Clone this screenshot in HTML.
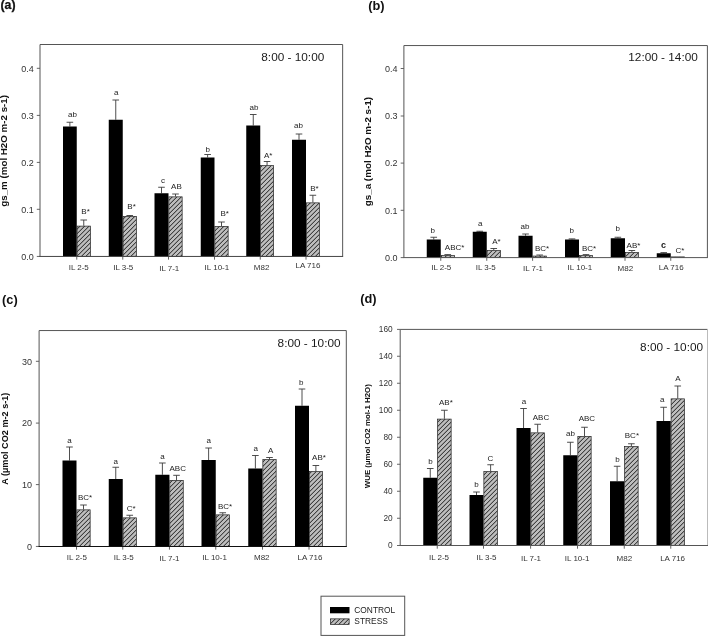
<!DOCTYPE html>
<html><head><meta charset="utf-8"><title>Figure</title>
<style>html,body{margin:0;padding:0;background:#fff}svg{display:block}text{font-family:"Liberation Sans", Arial, sans-serif}</style>
</head><body>
<svg width="708" height="636" viewBox="0 0 708 636">
<defs>
<pattern id="h" patternUnits="userSpaceOnUse" width="9" height="9">
<rect width="9" height="9" fill="#bebebe"/>
<path d="M-1 1.25L1.25 -1M-1 5.75L5.75 -1M-1 10.25L10.25 -1M3.5 10.25L10.25 3.5M8 10.25L10.25 8" stroke="#101010" stroke-width="0.95"/>
</pattern>
</defs>
<rect width="708" height="636" fill="#fff"/>
<path d="M40.0 256.45V44.5H342.65" fill="none" stroke="#555" stroke-width="1"/>
<path d="M342.65 44.5V256.45" fill="none" stroke="#555" stroke-width="1"/>
<path d="M36.8 256.45H40.0" stroke="#555" stroke-width="0.9"/>
<text x="33.80" y="259.67" font-size="9" text-anchor="end" fill="#333">0.0</text>
<path d="M36.8 209.3H40.0" stroke="#555" stroke-width="0.9"/>
<text x="33.80" y="212.52" font-size="9" text-anchor="end" fill="#333">0.1</text>
<path d="M36.8 162.4H40.0" stroke="#555" stroke-width="0.9"/>
<text x="33.80" y="165.62" font-size="9" text-anchor="end" fill="#333">0.2</text>
<path d="M36.8 115.4H40.0" stroke="#555" stroke-width="0.9"/>
<text x="33.80" y="118.62" font-size="9" text-anchor="end" fill="#333">0.3</text>
<path d="M36.8 68.3H40.0" stroke="#555" stroke-width="0.9"/>
<text x="33.80" y="71.52" font-size="9" text-anchor="end" fill="#333">0.4</text>
<path d="M69.88 126.5V122.25" stroke="#222" stroke-width="0.8" fill="none"/>
<path d="M66.58 122.25H73.17" stroke="#3a3a3a" stroke-width="0.9" fill="none"/>
<path d="M83.75 225.75V220" stroke="#222" stroke-width="0.8" fill="none"/>
<path d="M80.45 220H87.05" stroke="#3a3a3a" stroke-width="0.9" fill="none"/>
<rect x="63" y="126.5" width="13.75" height="129.95" fill="#000"/>
<rect x="77.10" y="226.10" width="13.30" height="30.35" fill="url(#h)" stroke="#222" stroke-width="0.7"/>
<path d="M76.75 256.45v3.2" stroke="#555" stroke-width="0.9"/>
<path d="M115.75 119.75V100" stroke="#222" stroke-width="0.8" fill="none"/>
<path d="M112.45 100H119.05" stroke="#3a3a3a" stroke-width="0.9" fill="none"/>
<path d="M129.75 216V215.5" stroke="#222" stroke-width="0.8" fill="none"/>
<path d="M126.45 215.5H133.05" stroke="#3a3a3a" stroke-width="0.9" fill="none"/>
<rect x="108.75" y="119.75" width="14.00" height="136.70" fill="#000"/>
<rect x="123.10" y="216.35" width="13.30" height="40.10" fill="url(#h)" stroke="#222" stroke-width="0.7"/>
<path d="M122.75 256.45v3.2" stroke="#555" stroke-width="0.9"/>
<path d="M161.50 193.25V187.25" stroke="#222" stroke-width="0.8" fill="none"/>
<path d="M158.20 187.25H164.80" stroke="#3a3a3a" stroke-width="0.9" fill="none"/>
<path d="M175.50 196.5V194" stroke="#222" stroke-width="0.8" fill="none"/>
<path d="M172.20 194H178.80" stroke="#3a3a3a" stroke-width="0.9" fill="none"/>
<rect x="154.5" y="193.25" width="14.00" height="63.20" fill="#000"/>
<rect x="168.85" y="196.85" width="13.30" height="59.60" fill="url(#h)" stroke="#222" stroke-width="0.7"/>
<path d="M168.5 256.45v3.2" stroke="#555" stroke-width="0.9"/>
<path d="M207.62 157.5V154.5" stroke="#222" stroke-width="0.8" fill="none"/>
<path d="M204.32 154.5H210.93" stroke="#3a3a3a" stroke-width="0.9" fill="none"/>
<path d="M221.50 226V222" stroke="#222" stroke-width="0.8" fill="none"/>
<path d="M218.20 222H224.80" stroke="#3a3a3a" stroke-width="0.9" fill="none"/>
<rect x="200.75" y="157.5" width="13.75" height="98.95" fill="#000"/>
<rect x="214.85" y="226.35" width="13.30" height="30.10" fill="url(#h)" stroke="#222" stroke-width="0.7"/>
<path d="M214.5 256.45v3.2" stroke="#555" stroke-width="0.9"/>
<path d="M253.25 125.5V114.5" stroke="#222" stroke-width="0.8" fill="none"/>
<path d="M249.95 114.5H256.55" stroke="#3a3a3a" stroke-width="0.9" fill="none"/>
<path d="M267.07 165.25V161.5" stroke="#222" stroke-width="0.8" fill="none"/>
<path d="M263.77 161.5H270.38" stroke="#3a3a3a" stroke-width="0.9" fill="none"/>
<rect x="246.25" y="125.5" width="14.00" height="130.95" fill="#000"/>
<rect x="260.60" y="165.60" width="12.95" height="90.85" fill="url(#h)" stroke="#222" stroke-width="0.7"/>
<path d="M260.25 256.45v3.2" stroke="#555" stroke-width="0.9"/>
<path d="M299.00 139.75V134" stroke="#222" stroke-width="0.8" fill="none"/>
<path d="M295.70 134H302.30" stroke="#3a3a3a" stroke-width="0.9" fill="none"/>
<path d="M312.88 202.5V195.25" stroke="#222" stroke-width="0.8" fill="none"/>
<path d="M309.57 195.25H316.18" stroke="#3a3a3a" stroke-width="0.9" fill="none"/>
<rect x="292" y="139.75" width="14.00" height="116.70" fill="#000"/>
<rect x="306.35" y="202.85" width="13.05" height="53.60" fill="url(#h)" stroke="#222" stroke-width="0.7"/>
<path d="M306 256.45v3.2" stroke="#555" stroke-width="0.9"/>
<path d="M39.5 256.45H343.15" stroke="#444" stroke-width="1"/>
<text x="72.50" y="116.75" font-size="8" text-anchor="middle" fill="#222">ab</text>
<text x="116.25" y="94.50" font-size="8" text-anchor="middle" fill="#222">a</text>
<text x="85.60" y="214.00" font-size="8" text-anchor="middle" fill="#222">B*</text>
<text x="131.60" y="208.50" font-size="8" text-anchor="middle" fill="#222">B*</text>
<text x="163.00" y="183.25" font-size="8" text-anchor="middle" fill="#222">c</text>
<text x="176.40" y="189.00" font-size="8" text-anchor="middle" fill="#222">AB</text>
<text x="207.75" y="151.75" font-size="8" text-anchor="middle" fill="#222">b</text>
<text x="253.90" y="110.00" font-size="8" text-anchor="middle" fill="#222">ab</text>
<text x="268.25" y="158.00" font-size="8" text-anchor="middle" fill="#222">A*</text>
<text x="298.40" y="128.25" font-size="8" text-anchor="middle" fill="#222">ab</text>
<text x="224.75" y="215.75" font-size="8" text-anchor="middle" fill="#222">B*</text>
<text x="314.50" y="190.75" font-size="8" text-anchor="middle" fill="#222">B*</text>
<text x="78.75" y="269.75" font-size="8" text-anchor="middle" fill="#333">IL 2-5</text>
<text x="123.25" y="269.75" font-size="8" text-anchor="middle" fill="#333">IL 3-5</text>
<text x="169.25" y="270.75" font-size="8" text-anchor="middle" fill="#333">IL 7-1</text>
<text x="216.90" y="269.75" font-size="8" text-anchor="middle" fill="#333">IL 10-1</text>
<text x="261.60" y="269.90" font-size="8" text-anchor="middle" fill="#333">M82</text>
<text x="307.90" y="268.40" font-size="8" text-anchor="middle" fill="#333">LA 716</text>
<text x="261.30" y="61.25" font-size="11.8" text-anchor="start" fill="#1a1a1a">8:00 - 10:00</text>
<text transform="translate(7.0 150.85) rotate(-90)" font-size="9.77" font-weight="bold" text-anchor="middle" fill="#111">gs_m (mol H2O m-2 s-1)</text>
<path d="M403.9 257.6V45.55H707.4" fill="none" stroke="#555" stroke-width="1"/>
<path d="M707.4 45.55V257.6" fill="none" stroke="#555" stroke-width="1"/>
<path d="M400.7 257.6H403.9" stroke="#555" stroke-width="0.9"/>
<text x="397.50" y="260.82" font-size="9" text-anchor="end" fill="#333">0.0</text>
<path d="M400.7 210.3H403.9" stroke="#555" stroke-width="0.9"/>
<text x="397.50" y="213.52" font-size="9" text-anchor="end" fill="#333">0.1</text>
<path d="M400.7 163.1H403.9" stroke="#555" stroke-width="0.9"/>
<text x="397.50" y="166.32" font-size="9" text-anchor="end" fill="#333">0.2</text>
<path d="M400.7 116H403.9" stroke="#555" stroke-width="0.9"/>
<text x="397.50" y="119.22" font-size="9" text-anchor="end" fill="#333">0.3</text>
<path d="M400.7 68.5H403.9" stroke="#555" stroke-width="0.9"/>
<text x="397.50" y="71.72" font-size="9" text-anchor="end" fill="#333">0.4</text>
<path d="M433.75 239.5V237.25" stroke="#222" stroke-width="0.8" fill="none"/>
<path d="M430.45 237.25H437.05" stroke="#3a3a3a" stroke-width="0.9" fill="none"/>
<path d="M447.75 255.3V254.6" stroke="#222" stroke-width="0.8" fill="none"/>
<path d="M444.45 254.6H451.05" stroke="#3a3a3a" stroke-width="0.9" fill="none"/>
<rect x="426.75" y="239.5" width="14.00" height="18.10" fill="#000"/>
<rect x="441.10" y="255.65" width="13.30" height="1.95" fill="url(#h)" stroke="#222" stroke-width="0.7"/>
<path d="M440.75 257.6v3.2" stroke="#555" stroke-width="0.9"/>
<path d="M479.75 231.75V231.25" stroke="#222" stroke-width="0.8" fill="none"/>
<path d="M476.45 231.25H483.05" stroke="#3a3a3a" stroke-width="0.9" fill="none"/>
<path d="M493.75 250.25V248.5" stroke="#222" stroke-width="0.8" fill="none"/>
<path d="M490.45 248.5H497.05" stroke="#3a3a3a" stroke-width="0.9" fill="none"/>
<rect x="472.75" y="231.75" width="14.00" height="25.85" fill="#000"/>
<rect x="487.10" y="250.60" width="13.30" height="7.00" fill="url(#h)" stroke="#222" stroke-width="0.7"/>
<path d="M486.75 257.6v3.2" stroke="#555" stroke-width="0.9"/>
<path d="M525.55 235.75V234" stroke="#222" stroke-width="0.8" fill="none"/>
<path d="M522.25 234H528.85" stroke="#3a3a3a" stroke-width="0.9" fill="none"/>
<path d="M539.67 255.7V255" stroke="#222" stroke-width="0.8" fill="none"/>
<path d="M536.38 255H542.97" stroke="#3a3a3a" stroke-width="0.9" fill="none"/>
<rect x="518.5" y="235.75" width="14.10" height="21.85" fill="#000"/>
<rect x="532.95" y="256.05" width="13.45" height="1.55" fill="url(#h)" stroke="#222" stroke-width="0.7"/>
<path d="M532.6 257.6v3.2" stroke="#555" stroke-width="0.9"/>
<path d="M572.00 239.5V238.9" stroke="#222" stroke-width="0.8" fill="none"/>
<path d="M568.70 238.9H575.30" stroke="#3a3a3a" stroke-width="0.9" fill="none"/>
<path d="M586.00 255.3V254.6" stroke="#222" stroke-width="0.8" fill="none"/>
<path d="M582.70 254.6H589.30" stroke="#3a3a3a" stroke-width="0.9" fill="none"/>
<rect x="565" y="239.5" width="14.00" height="18.10" fill="#000"/>
<rect x="579.35" y="255.65" width="13.30" height="1.95" fill="url(#h)" stroke="#222" stroke-width="0.7"/>
<path d="M579 257.6v3.2" stroke="#555" stroke-width="0.9"/>
<path d="M617.88 238.25V237.25" stroke="#222" stroke-width="0.8" fill="none"/>
<path d="M614.58 237.25H621.17" stroke="#3a3a3a" stroke-width="0.9" fill="none"/>
<path d="M631.88 252V250.5" stroke="#222" stroke-width="0.8" fill="none"/>
<path d="M628.58 250.5H635.17" stroke="#3a3a3a" stroke-width="0.9" fill="none"/>
<rect x="610.75" y="238.25" width="14.25" height="19.35" fill="#000"/>
<rect x="625.35" y="252.35" width="13.05" height="5.25" fill="url(#h)" stroke="#222" stroke-width="0.7"/>
<path d="M625 257.6v3.2" stroke="#555" stroke-width="0.9"/>
<path d="M663.75 253.25V252.6" stroke="#222" stroke-width="0.8" fill="none"/>
<path d="M660.45 252.6H667.05" stroke="#3a3a3a" stroke-width="0.9" fill="none"/>
<rect x="656.75" y="253.25" width="14.00" height="4.35" fill="#000"/>
<rect x="671.10" y="256.90" width="13.30" height="0.70" fill="url(#h)" stroke="#222" stroke-width="0.7"/>
<path d="M670.75 257.6v3.2" stroke="#555" stroke-width="0.9"/>
<path d="M403.4 257.6H707.9" stroke="#555" stroke-width="1"/>
<text x="432.75" y="232.75" font-size="8" text-anchor="middle" fill="#222">b</text>
<text x="454.60" y="250.25" font-size="8" text-anchor="middle" fill="#222">ABC*</text>
<text x="480.25" y="226.00" font-size="8" text-anchor="middle" fill="#222">a</text>
<text x="496.50" y="243.50" font-size="8" text-anchor="middle" fill="#222">A*</text>
<text x="525.00" y="229.30" font-size="8" text-anchor="middle" fill="#222">ab</text>
<text x="542.00" y="250.75" font-size="8" text-anchor="middle" fill="#222">BC*</text>
<text x="571.75" y="233.25" font-size="8" text-anchor="middle" fill="#222">b</text>
<text x="589.10" y="250.75" font-size="8" text-anchor="middle" fill="#222">BC*</text>
<text x="617.75" y="230.70" font-size="8" text-anchor="middle" fill="#222">b</text>
<text x="633.50" y="247.75" font-size="8" text-anchor="middle" fill="#222">AB*</text>
<text x="663.50" y="247.75" font-size="9" text-anchor="middle" font-weight="bold" fill="#222">c</text>
<text x="680.00" y="252.75" font-size="8" text-anchor="middle" fill="#222">C*</text>
<text x="441.25" y="270.00" font-size="8" text-anchor="middle" fill="#333">IL 2-5</text>
<text x="485.75" y="270.00" font-size="8" text-anchor="middle" fill="#333">IL 3-5</text>
<text x="533.00" y="270.75" font-size="8" text-anchor="middle" fill="#333">IL 7-1</text>
<text x="579.90" y="269.75" font-size="8" text-anchor="middle" fill="#333">IL 10-1</text>
<text x="625.40" y="270.75" font-size="8" text-anchor="middle" fill="#333">M82</text>
<text x="671.25" y="269.75" font-size="8" text-anchor="middle" fill="#333">LA 716</text>
<text x="628.30" y="61.25" font-size="11.8" text-anchor="start" fill="#1a1a1a">12:00 - 14:00</text>
<text transform="translate(370.5 151.6) rotate(-90)" font-size="9.85" font-weight="bold" text-anchor="middle" fill="#111">gs_a (mol H2O m-2 s-1)</text>
<path d="M39.1 546.45V330.55H346.3" fill="none" stroke="#555" stroke-width="1"/>
<path d="M346.3 330.55V546.45" fill="none" stroke="#555" stroke-width="1"/>
<path d="M35.9 546.45H39.1" stroke="#555" stroke-width="0.9"/>
<text x="32.00" y="549.67" font-size="9" text-anchor="end" fill="#333">0</text>
<path d="M35.9 484.6H39.1" stroke="#555" stroke-width="0.9"/>
<text x="32.00" y="487.82" font-size="9" text-anchor="end" fill="#333">10</text>
<path d="M35.9 423.1H39.1" stroke="#555" stroke-width="0.9"/>
<text x="32.00" y="426.32" font-size="9" text-anchor="end" fill="#333">20</text>
<path d="M35.9 361.3H39.1" stroke="#555" stroke-width="0.9"/>
<text x="32.00" y="364.52" font-size="9" text-anchor="end" fill="#333">30</text>
<path d="M69.50 460.5V447" stroke="#222" stroke-width="0.8" fill="none"/>
<path d="M66.20 447H72.80" stroke="#3a3a3a" stroke-width="0.9" fill="none"/>
<path d="M83.50 509.5V505" stroke="#222" stroke-width="0.8" fill="none"/>
<path d="M80.20 505H86.80" stroke="#3a3a3a" stroke-width="0.9" fill="none"/>
<rect x="62.5" y="460.5" width="14.00" height="85.95" fill="#000"/>
<rect x="76.85" y="509.85" width="13.30" height="36.60" fill="url(#h)" stroke="#222" stroke-width="0.7"/>
<path d="M76.5 546.45v3.2" stroke="#555" stroke-width="0.9"/>
<path d="M115.75 479V467.25" stroke="#222" stroke-width="0.8" fill="none"/>
<path d="M112.45 467.25H119.05" stroke="#3a3a3a" stroke-width="0.9" fill="none"/>
<path d="M129.75 517.5V515.25" stroke="#222" stroke-width="0.8" fill="none"/>
<path d="M126.45 515.25H133.05" stroke="#3a3a3a" stroke-width="0.9" fill="none"/>
<rect x="108.75" y="479" width="14.00" height="67.45" fill="#000"/>
<rect x="123.10" y="517.85" width="13.30" height="28.60" fill="url(#h)" stroke="#222" stroke-width="0.7"/>
<path d="M122.75 546.45v3.2" stroke="#555" stroke-width="0.9"/>
<path d="M162.38 474.75V463" stroke="#222" stroke-width="0.8" fill="none"/>
<path d="M159.07 463H165.68" stroke="#3a3a3a" stroke-width="0.9" fill="none"/>
<path d="M176.52 480V475.3" stroke="#222" stroke-width="0.8" fill="none"/>
<path d="M173.22 475.3H179.82" stroke="#3a3a3a" stroke-width="0.9" fill="none"/>
<rect x="155.3" y="474.75" width="14.15" height="71.70" fill="#000"/>
<rect x="169.80" y="480.35" width="13.45" height="66.10" fill="url(#h)" stroke="#222" stroke-width="0.7"/>
<path d="M169.45 546.45v3.2" stroke="#555" stroke-width="0.9"/>
<path d="M208.62 460V448" stroke="#222" stroke-width="0.8" fill="none"/>
<path d="M205.32 448H211.93" stroke="#3a3a3a" stroke-width="0.9" fill="none"/>
<path d="M222.75 514.5V512.75" stroke="#222" stroke-width="0.8" fill="none"/>
<path d="M219.45 512.75H226.05" stroke="#3a3a3a" stroke-width="0.9" fill="none"/>
<rect x="201.5" y="460" width="14.25" height="86.45" fill="#000"/>
<rect x="216.10" y="514.85" width="13.30" height="31.60" fill="url(#h)" stroke="#222" stroke-width="0.7"/>
<path d="M215.75 546.45v3.2" stroke="#555" stroke-width="0.9"/>
<path d="M255.38 468.5V455.5" stroke="#222" stroke-width="0.8" fill="none"/>
<path d="M252.07 455.5H258.68" stroke="#3a3a3a" stroke-width="0.9" fill="none"/>
<path d="M269.50 459.25V457.5" stroke="#222" stroke-width="0.8" fill="none"/>
<path d="M266.20 457.5H272.80" stroke="#3a3a3a" stroke-width="0.9" fill="none"/>
<rect x="248.25" y="468.5" width="14.25" height="77.95" fill="#000"/>
<rect x="262.85" y="459.60" width="13.30" height="86.85" fill="url(#h)" stroke="#222" stroke-width="0.7"/>
<path d="M262.5 546.45v3.2" stroke="#555" stroke-width="0.9"/>
<path d="M302.00 405.75V389" stroke="#222" stroke-width="0.8" fill="none"/>
<path d="M298.70 389H305.30" stroke="#3a3a3a" stroke-width="0.9" fill="none"/>
<path d="M315.88 471.25V465.5" stroke="#222" stroke-width="0.8" fill="none"/>
<path d="M312.57 465.5H319.18" stroke="#3a3a3a" stroke-width="0.9" fill="none"/>
<rect x="295" y="405.75" width="14.00" height="140.70" fill="#000"/>
<rect x="309.35" y="471.60" width="13.05" height="74.85" fill="url(#h)" stroke="#222" stroke-width="0.7"/>
<path d="M309 546.45v3.2" stroke="#555" stroke-width="0.9"/>
<path d="M38.6 546.45H346.8" stroke="#111" stroke-width="1.1"/>
<text x="69.50" y="442.50" font-size="8" text-anchor="middle" fill="#222">a</text>
<text x="85.00" y="500.00" font-size="8" text-anchor="middle" fill="#222">BC*</text>
<text x="115.75" y="463.75" font-size="8" text-anchor="middle" fill="#222">a</text>
<text x="131.10" y="511.25" font-size="8" text-anchor="middle" fill="#222">C*</text>
<text x="162.50" y="458.50" font-size="8" text-anchor="middle" fill="#222">a</text>
<text x="177.70" y="471.00" font-size="8" text-anchor="middle" fill="#222">ABC</text>
<text x="208.75" y="443.00" font-size="8" text-anchor="middle" fill="#222">a</text>
<text x="225.10" y="508.75" font-size="8" text-anchor="middle" fill="#222">BC*</text>
<text x="255.75" y="451.00" font-size="8" text-anchor="middle" fill="#222">a</text>
<text x="270.75" y="453.00" font-size="8" text-anchor="middle" fill="#222">A</text>
<text x="301.25" y="385.00" font-size="8" text-anchor="middle" fill="#222">b</text>
<text x="319.00" y="460.00" font-size="8" text-anchor="middle" fill="#222">AB*</text>
<text x="76.90" y="560.25" font-size="8" text-anchor="middle" fill="#333">IL 2-5</text>
<text x="123.75" y="559.60" font-size="8" text-anchor="middle" fill="#333">IL 3-5</text>
<text x="169.50" y="560.75" font-size="8" text-anchor="middle" fill="#333">IL 7-1</text>
<text x="214.60" y="560.25" font-size="8" text-anchor="middle" fill="#333">IL 10-1</text>
<text x="261.75" y="560.25" font-size="8" text-anchor="middle" fill="#333">M82</text>
<text x="309.90" y="560.25" font-size="8" text-anchor="middle" fill="#333">LA 716</text>
<text x="277.60" y="347.00" font-size="11.8" text-anchor="start" fill="#1a1a1a">8:00 - 10:00</text>
<text transform="translate(8.1 438.7) rotate(-90)" font-size="9.15" font-weight="bold" text-anchor="middle" fill="#111">A (µmol CO2 m-2 s-1)</text>
<path d="M400.2 545.5V329.4H707.5" fill="none" stroke="#555" stroke-width="1"/>
<path d="M707.5 329.4V545.5" fill="none" stroke="#bbb" stroke-width="1"/>
<path d="M397.0 545.5H400.2" stroke="#555" stroke-width="0.9"/>
<text x="392.70" y="548.47" font-size="8.3" text-anchor="end" fill="#333">0</text>
<path d="M397.0 518.25H400.2" stroke="#555" stroke-width="0.9"/>
<text x="392.70" y="521.22" font-size="8.3" text-anchor="end" fill="#333">20</text>
<path d="M397.0 491.25H400.2" stroke="#555" stroke-width="0.9"/>
<text x="392.70" y="494.22" font-size="8.3" text-anchor="end" fill="#333">40</text>
<path d="M397.0 464.25H400.2" stroke="#555" stroke-width="0.9"/>
<text x="392.70" y="467.22" font-size="8.3" text-anchor="end" fill="#333">60</text>
<path d="M397.0 437.25H400.2" stroke="#555" stroke-width="0.9"/>
<text x="392.70" y="440.22" font-size="8.3" text-anchor="end" fill="#333">80</text>
<path d="M397.0 410.25H400.2" stroke="#555" stroke-width="0.9"/>
<text x="392.70" y="413.22" font-size="8.3" text-anchor="end" fill="#333">100</text>
<path d="M397.0 383.25H400.2" stroke="#555" stroke-width="0.9"/>
<text x="392.70" y="386.22" font-size="8.3" text-anchor="end" fill="#333">120</text>
<path d="M397.0 356.25H400.2" stroke="#555" stroke-width="0.9"/>
<text x="392.70" y="359.22" font-size="8.3" text-anchor="end" fill="#333">140</text>
<path d="M397.0 329.4H400.2" stroke="#555" stroke-width="0.9"/>
<text x="392.70" y="332.37" font-size="8.3" text-anchor="end" fill="#333">160</text>
<path d="M430.25 477.75V468.5" stroke="#222" stroke-width="0.8" fill="none"/>
<path d="M426.95 468.5H433.55" stroke="#3a3a3a" stroke-width="0.9" fill="none"/>
<path d="M444.38 418.75V410.25" stroke="#222" stroke-width="0.8" fill="none"/>
<path d="M441.07 410.25H447.68" stroke="#3a3a3a" stroke-width="0.9" fill="none"/>
<rect x="423.25" y="477.75" width="14.00" height="67.75" fill="#000"/>
<rect x="437.60" y="419.10" width="13.55" height="126.40" fill="url(#h)" stroke="#222" stroke-width="0.7"/>
<path d="M437.25 545.5v3.2" stroke="#555" stroke-width="0.9"/>
<path d="M476.50 495V492" stroke="#222" stroke-width="0.8" fill="none"/>
<path d="M473.20 492H479.80" stroke="#3a3a3a" stroke-width="0.9" fill="none"/>
<path d="M490.62 471.25V464.75" stroke="#222" stroke-width="0.8" fill="none"/>
<path d="M487.32 464.75H493.93" stroke="#3a3a3a" stroke-width="0.9" fill="none"/>
<rect x="469.5" y="495" width="14.00" height="50.50" fill="#000"/>
<rect x="483.85" y="471.60" width="13.55" height="73.90" fill="url(#h)" stroke="#222" stroke-width="0.7"/>
<path d="M483.5 545.5v3.2" stroke="#555" stroke-width="0.9"/>
<path d="M523.55 428V408.5" stroke="#222" stroke-width="0.8" fill="none"/>
<path d="M520.25 408.5H526.85" stroke="#3a3a3a" stroke-width="0.9" fill="none"/>
<path d="M537.67 432.5V424.25" stroke="#222" stroke-width="0.8" fill="none"/>
<path d="M534.38 424.25H540.97" stroke="#3a3a3a" stroke-width="0.9" fill="none"/>
<rect x="516.5" y="428" width="14.10" height="117.50" fill="#000"/>
<rect x="530.95" y="432.85" width="13.45" height="112.65" fill="url(#h)" stroke="#222" stroke-width="0.7"/>
<path d="M530.6 545.5v3.2" stroke="#555" stroke-width="0.9"/>
<path d="M570.38 455.25V442.25" stroke="#222" stroke-width="0.8" fill="none"/>
<path d="M567.08 442.25H573.67" stroke="#3a3a3a" stroke-width="0.9" fill="none"/>
<path d="M584.50 436V427.25" stroke="#222" stroke-width="0.8" fill="none"/>
<path d="M581.20 427.25H587.80" stroke="#3a3a3a" stroke-width="0.9" fill="none"/>
<rect x="563.25" y="455.25" width="14.25" height="90.25" fill="#000"/>
<rect x="577.85" y="436.35" width="13.30" height="109.15" fill="url(#h)" stroke="#222" stroke-width="0.7"/>
<path d="M577.5 545.5v3.2" stroke="#555" stroke-width="0.9"/>
<path d="M617.12 481.25V466.25" stroke="#222" stroke-width="0.8" fill="none"/>
<path d="M613.83 466.25H620.42" stroke="#3a3a3a" stroke-width="0.9" fill="none"/>
<path d="M631.38 446.25V443.75" stroke="#222" stroke-width="0.8" fill="none"/>
<path d="M628.08 443.75H634.67" stroke="#3a3a3a" stroke-width="0.9" fill="none"/>
<rect x="610" y="481.25" width="14.25" height="64.25" fill="#000"/>
<rect x="624.60" y="446.60" width="13.55" height="98.90" fill="url(#h)" stroke="#222" stroke-width="0.7"/>
<path d="M624.25 545.5v3.2" stroke="#555" stroke-width="0.9"/>
<path d="M663.62 421V407.25" stroke="#222" stroke-width="0.8" fill="none"/>
<path d="M660.33 407.25H666.92" stroke="#3a3a3a" stroke-width="0.9" fill="none"/>
<path d="M677.75 398.5V386" stroke="#222" stroke-width="0.8" fill="none"/>
<path d="M674.45 386H681.05" stroke="#3a3a3a" stroke-width="0.9" fill="none"/>
<rect x="656.5" y="421" width="14.25" height="124.50" fill="#000"/>
<rect x="671.10" y="398.85" width="13.30" height="146.65" fill="url(#h)" stroke="#222" stroke-width="0.7"/>
<path d="M670.75 545.5v3.2" stroke="#555" stroke-width="0.9"/>
<path d="M399.7 545.5H708.0" stroke="#555" stroke-width="1"/>
<text x="430.50" y="463.75" font-size="8" text-anchor="middle" fill="#222">b</text>
<text x="445.90" y="404.75" font-size="8" text-anchor="middle" fill="#222">AB*</text>
<text x="476.50" y="486.70" font-size="8" text-anchor="middle" fill="#222">b</text>
<text x="490.50" y="460.50" font-size="8" text-anchor="middle" fill="#222">C</text>
<text x="524.00" y="403.75" font-size="8" text-anchor="middle" fill="#222">a</text>
<text x="541.00" y="420.00" font-size="8" text-anchor="middle" fill="#222">ABC</text>
<text x="570.40" y="435.50" font-size="8" text-anchor="middle" fill="#222">ab</text>
<text x="586.90" y="420.75" font-size="8" text-anchor="middle" fill="#222">ABC</text>
<text x="617.50" y="462.25" font-size="8" text-anchor="middle" fill="#222">b</text>
<text x="631.90" y="438.00" font-size="8" text-anchor="middle" fill="#222">BC*</text>
<text x="662.25" y="402.25" font-size="8" text-anchor="middle" fill="#222">a</text>
<text x="678.00" y="380.50" font-size="8" text-anchor="middle" fill="#222">A</text>
<text x="439.00" y="560.25" font-size="8" text-anchor="middle" fill="#333">IL 2-5</text>
<text x="486.50" y="560.25" font-size="8" text-anchor="middle" fill="#333">IL 3-5</text>
<text x="531.00" y="561.25" font-size="8" text-anchor="middle" fill="#333">IL 7-1</text>
<text x="577.10" y="561.25" font-size="8" text-anchor="middle" fill="#333">IL 10-1</text>
<text x="624.40" y="560.75" font-size="8" text-anchor="middle" fill="#333">M82</text>
<text x="672.60" y="560.75" font-size="8" text-anchor="middle" fill="#333">LA 716</text>
<text x="640.10" y="350.50" font-size="11.8" text-anchor="start" fill="#1a1a1a">8:00 - 10:00</text>
<text transform="translate(369.5 436.2) rotate(-90)" font-size="7.85" font-weight="bold" text-anchor="middle" fill="#111">WUE (µmol CO2 mol-1 H2O)</text>
<text x="0.5" y="9.3" font-size="12.3" font-weight="bold" fill="#111" stroke="#111" stroke-width="0.25">(a)</text>
<text x="368.2" y="10.1" font-size="12.8" font-weight="bold" fill="#111">(b)</text>
<text x="2" y="304" font-size="12.8" font-weight="bold" fill="#111">(c)</text>
<text x="360.2" y="302.6" font-size="12.8" font-weight="bold" fill="#111">(d)</text>
<rect x="321" y="596.2" width="83.7" height="39.2" fill="#fff" stroke="#555" stroke-width="1"/>
<rect x="330" y="607" width="19.5" height="6.3" fill="#000"/>
<rect x="330.35" y="618.85" width="18.8" height="5.6" fill="url(#h)" stroke="#222" stroke-width="0.7"/>
<text x="354.30" y="613.25" font-size="8.4" text-anchor="start" fill="#222">CONTROL</text>
<text x="354.30" y="624.00" font-size="8.4" text-anchor="start" fill="#222">STRESS</text>
</svg></body></html>
